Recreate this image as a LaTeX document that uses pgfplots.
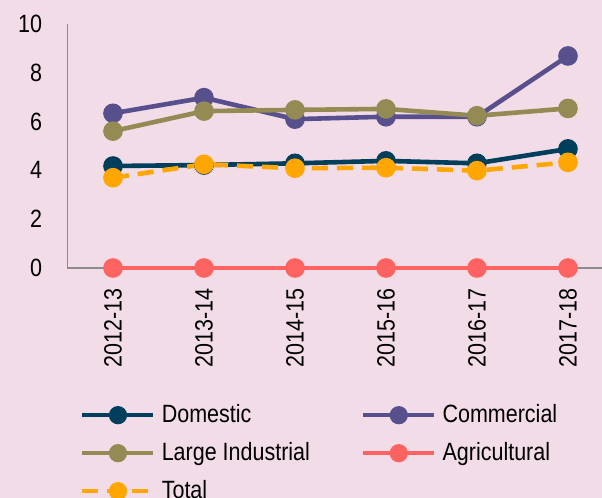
\documentclass[border=0pt]{standalone}
\usepackage{fontspec}
\setmainfont{Liberation Sans}[FakeStretch=0.86]
\usepackage{pgfplots}
\pgfplotsset{compat=1.18}
\definecolor{bgpink}{HTML}{F2DCE8}
\definecolor{cdom}{HTML}{003F5C}
\definecolor{ccom}{HTML}{58508D}
\definecolor{cind}{HTML}{948A54}
\definecolor{cagr}{HTML}{FF6361}
\definecolor{ctot}{HTML}{FFA600}
\definecolor{axgray}{HTML}{8C8C8C}

\begin{document}
\begin{tikzpicture}
\fill[bgpink] (-33.75pt,-115pt) rectangle (267.25pt,134pt);
\begin{axis}[
    overlay,
    at={(0pt,0pt)}, anchor=south west,
    scale only axis, width=267.25pt, height=122pt,
    xmin=-0.5, xmax=5.374, ymin=0, ymax=10,
    enlargelimits=false, clip=false,
    axis x line=bottom, axis y line=left,
    axis line style={-, draw=axgray, line width=0.8pt},
    major tick length=0pt,
    xtick={0,1,2,3,4,5},
    xticklabels={2012-13,2013-14,2014-15,2015-16,2016-17,2017-18},
    ytick={0,2,4,6,8,10},
    /pgf/number format/assume math mode=true,
    tick label style={font=\fontsize{12.5}{15}\selectfont, text=black},
    xticklabel style={rotate=90, anchor=east, inner xsep=10pt},
    yticklabel style={inner xsep=12.5pt},
    every axis plot/.append style={line width=2.3pt, mark=*, mark size=3.75pt},
    legend image code/.code={
        \draw[mark repeat=2, mark phase=2, mark size=3.4pt] plot coordinates {(0pt,0pt) (17.75pt,0pt) (35.5pt,0pt)};
    },
    legend columns=2,
    legend cell align=left,
    legend style={
        at={(axis description cs:0.023,-0.759)}, anchor=west,
        draw=none, fill=none, inner sep=0pt,
        font=\fontsize{12.5}{15}\selectfont,
        row sep=10pt,
        nodes={inner xsep=3pt, inner ysep=0pt, text height=8pt, text depth=1pt},
        /tikz/every even column/.append style={column sep=22.5pt},
    },
]
\addplot[cdom] coordinates {(0,4.18) (1,4.22) (2,4.29) (3,4.39) (4,4.29) (5,4.88)};
\addlegendentry{Domestic}
\addplot[ccom] coordinates {(0,6.34) (1,6.98) (2,6.10) (3,6.20) (4,6.20) (5,8.69)};
\addlegendentry{Commercial}
\addplot[cind] coordinates {(0,5.61) (1,6.43) (2,6.48) (3,6.52) (4,6.24) (5,6.54)};
\addlegendentry{Large Industrial}
\addplot[cagr] coordinates {(0,0) (1,0) (2,0) (3,0) (4,0) (5,0)};
\addlegendentry{Agricultural}
\addplot[ctot, dash pattern=on 8pt off 4.5pt, mark options={solid}] coordinates {(0,3.70) (1,4.25) (2,4.09) (3,4.11) (4,3.99) (5,4.33)};
\addlegendentry{Total}
\end{axis}
\end{tikzpicture}
\end{document}
